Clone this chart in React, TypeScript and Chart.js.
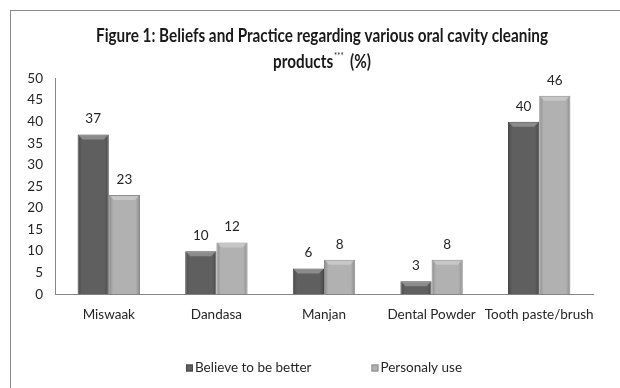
import React, { useEffect, useRef } from 'react';
import { Chart, registerables } from 'chart.js';

Chart.register(...registerables);

const categories = ['Miswaak', 'Dandasa', 'Manjan', 'Dental Powder', 'Tooth paste/brush'];
const believeValues = [37, 10, 6, 3, 40];
const personalValues = [23, 12, 8, 8, 46];
const seriesLabels = ['Believe to be better', 'Personaly use'];
const titleLine1 = 'Figure 1: Beliefs and Practice regarding various oral cavity cleaning';
const titleLine2Main = 'products';
const titleSup = '***';
const titleLine2End = ' (%)';
const yMin = 0;
const yMax = 50;
const yStep = 5;

const FONT = 'Lato, "Open Sans", sans-serif';
const TITLE_FONT = 'Lato, "Open Sans", sans-serif';
const TEXT = '#262626';
const FILLS = ['#5f5f5f', '#b1b1b1'];
const BORDERS = ['#474747', '#8c8c8c'];

const titlePlugin = {
  id: 'customTitle',
  afterDraw(chart: any) {
    const ctx = chart.ctx;
    const cx = 322;
    const size = 18;
    ctx.save();
    ctx.fillStyle = '#1a1a1a';
    ctx.textBaseline = 'middle';
    ctx.font = `bold ${size}px ${TITLE_FONT}`;
    const w = ctx.measureText(titleLine1).width;
    const sx = Math.min(1, 452 / w);
    ctx.translate(cx, 0);
    ctx.scale(sx, 1);
    ctx.textAlign = 'center';
    ctx.fillText(titleLine1, 0, 36);
    // line 2 with superscript
    ctx.textAlign = 'left';
    const supSize = size * 0.5;
    const wMain = ctx.measureText(titleLine2Main).width;
    const wEnd = ctx.measureText(titleLine2End).width;
    ctx.font = `${supSize}px ${TITLE_FONT}`;
    const wSup = ctx.measureText(titleSup).width + 3;
    const total = wMain + wSup + wEnd + 1;
    let x = -total / 2;
    ctx.font = `bold ${size}px ${TITLE_FONT}`;
    ctx.fillText(titleLine2Main, x, 62);
    x += wMain + 1;
    ctx.font = `${supSize}px ${TITLE_FONT}`;
    ctx.fillText(titleSup, x, 56);
    x += wSup;
    ctx.font = `bold ${size}px ${TITLE_FONT}`;
    ctx.fillText(titleLine2End, x, 62);
    ctx.restore();
  },
};

const barDecor = {
  id: 'barDecor',
  afterDatasetsDraw(chart: any) {
    const ctx = chart.ctx;
    ctx.save();
    chart.data.datasets.forEach((ds: any, di: number) => {
      const meta = chart.getDatasetMeta(di);
      meta.data.forEach((el: any, i: number) => {
        const { x, y, base, width } = el.getProps(['x', 'y', 'base', 'width'], true);
        const left = x - width / 2;
        const h = base - y;
        const g = ctx.createLinearGradient(left, 0, left + width, 0);
        g.addColorStop(0, 'rgba(0,0,0,0.22)');
        g.addColorStop(0.14, 'rgba(0,0,0,0)');
        g.addColorStop(0.86, 'rgba(0,0,0,0)');
        g.addColorStop(1, 'rgba(0,0,0,0.22)');
        ctx.fillStyle = g;
        ctx.fillRect(left + 1, y + 1, width - 2, h - 1);
        const bev = Math.min(4, h / 2);
        ctx.beginPath();
        ctx.moveTo(left + 1, y + 1);
        ctx.lineTo(left + width - 1, y + 1);
        ctx.lineTo(left + width - 1 - bev, y + 1 + bev);
        ctx.lineTo(left + 1 + bev, y + 1 + bev);
        ctx.closePath();
        ctx.fillStyle = 'rgba(255,255,255,0.28)';
        ctx.fill();
        // value label
        ctx.fillStyle = TEXT;
        ctx.font = `13.5px ${FONT}`;
        ctx.textAlign = 'center';
        ctx.textBaseline = 'middle';
        ctx.fillText(String(ds.data[i]), x, y - 15.5);
      });
    });
    ctx.restore();
  },
};

const legendPlugin = {
  id: 'customLegend',
  afterDraw(chart: any) {
    const ctx = chart.ctx;
    const area = chart.chartArea;
    ctx.save();
    ctx.font = `13.5px ${FONT}`;
    const box = 7;
    const gap = 2;
    const spacing = 60;
    const widths = seriesLabels.map((l) => box + gap + ctx.measureText(l).width);
    const total = widths.reduce((a, b) => a + b, 0) + spacing * (widths.length - 1);
    let x = (area.left + area.right) / 2 - total / 2;
    const cy = 368;
    seriesLabels.forEach((label, i) => {
      ctx.fillStyle = FILLS[i];
      ctx.fillRect(x, cy - box / 2, box, box);
      ctx.strokeStyle = BORDERS[i];
      ctx.lineWidth = 1;
      ctx.strokeRect(x + 0.5, cy - box / 2 + 0.5, box - 1, box - 1);
      ctx.fillStyle = TEXT;
      ctx.textAlign = 'left';
      ctx.textBaseline = 'middle';
      ctx.fillText(label, x + box + gap, cy);
      x += widths[i] + spacing;
    });
    ctx.restore();
  },
};

export default function App() {
  const ref = useRef<HTMLCanvasElement | null>(null);

  useEffect(() => {
    if (!ref.current) return;
    const chart = new Chart(ref.current, {
      type: 'bar',
      data: {
        labels: categories,
        datasets: [
          {
            label: seriesLabels[0],
            data: believeValues,
            backgroundColor: FILLS[0],
            borderColor: BORDERS[0],
            borderWidth: 1,
            categoryPercentage: 0.58,
            barPercentage: 1,
          },
          {
            label: seriesLabels[1],
            data: personalValues,
            backgroundColor: FILLS[1],
            borderColor: BORDERS[1],
            borderWidth: 1,
            categoryPercentage: 0.58,
            barPercentage: 1,
          },
        ],
      },
      options: {
        responsive: false,
        animation: false,
        devicePixelRatio: 1,
        layout: { padding: { left: 0, right: 27, top: 78.5, bottom: 0 } },
        plugins: {
          legend: { display: false },
          title: { display: false },
          tooltip: { enabled: false },
        },
        scales: {
          x: {
            grid: { display: false, drawTicks: false },
            border: { color: '#868686', width: 1 },
            ticks: {
              color: TEXT,
              font: { family: FONT, size: 13.5 },
              padding: 12,
              maxRotation: 0,
              autoSkip: false,
            },
            afterFit: (s: any) => {
              s.height = 93.7;
            },
          },
          y: {
            min: yMin,
            max: yMax,
            grid: { display: false, drawTicks: false },
            border: { color: '#868686', width: 1 },
            ticks: { stepSize: yStep, color: TEXT, font: { family: FONT, size: 13.5 }, padding: 12 },
            afterFit: (s: any) => {
              s.width = 55;
            },
          },
        },
      },
      plugins: [barDecor, titlePlugin, legendPlugin],
    });
    return () => chart.destroy();
  }, []);

  return (
    <div
      style={{
        position: 'fixed',
        left: 0,
        top: 0,
        width: 620,
        height: 388,
        overflow: 'hidden',
        background: '#fff',
      }}
    >
      <div
        style={{
          position: 'absolute',
          left: 10,
          top: 10,
          width: 700,
          height: 500,
          border: '1px solid #8a8a8a',
        }}
      />
      <canvas ref={ref} width={620} height={388} style={{ position: 'absolute', left: 0, top: 0, display: 'block' }} />
    </div>
  );
}
